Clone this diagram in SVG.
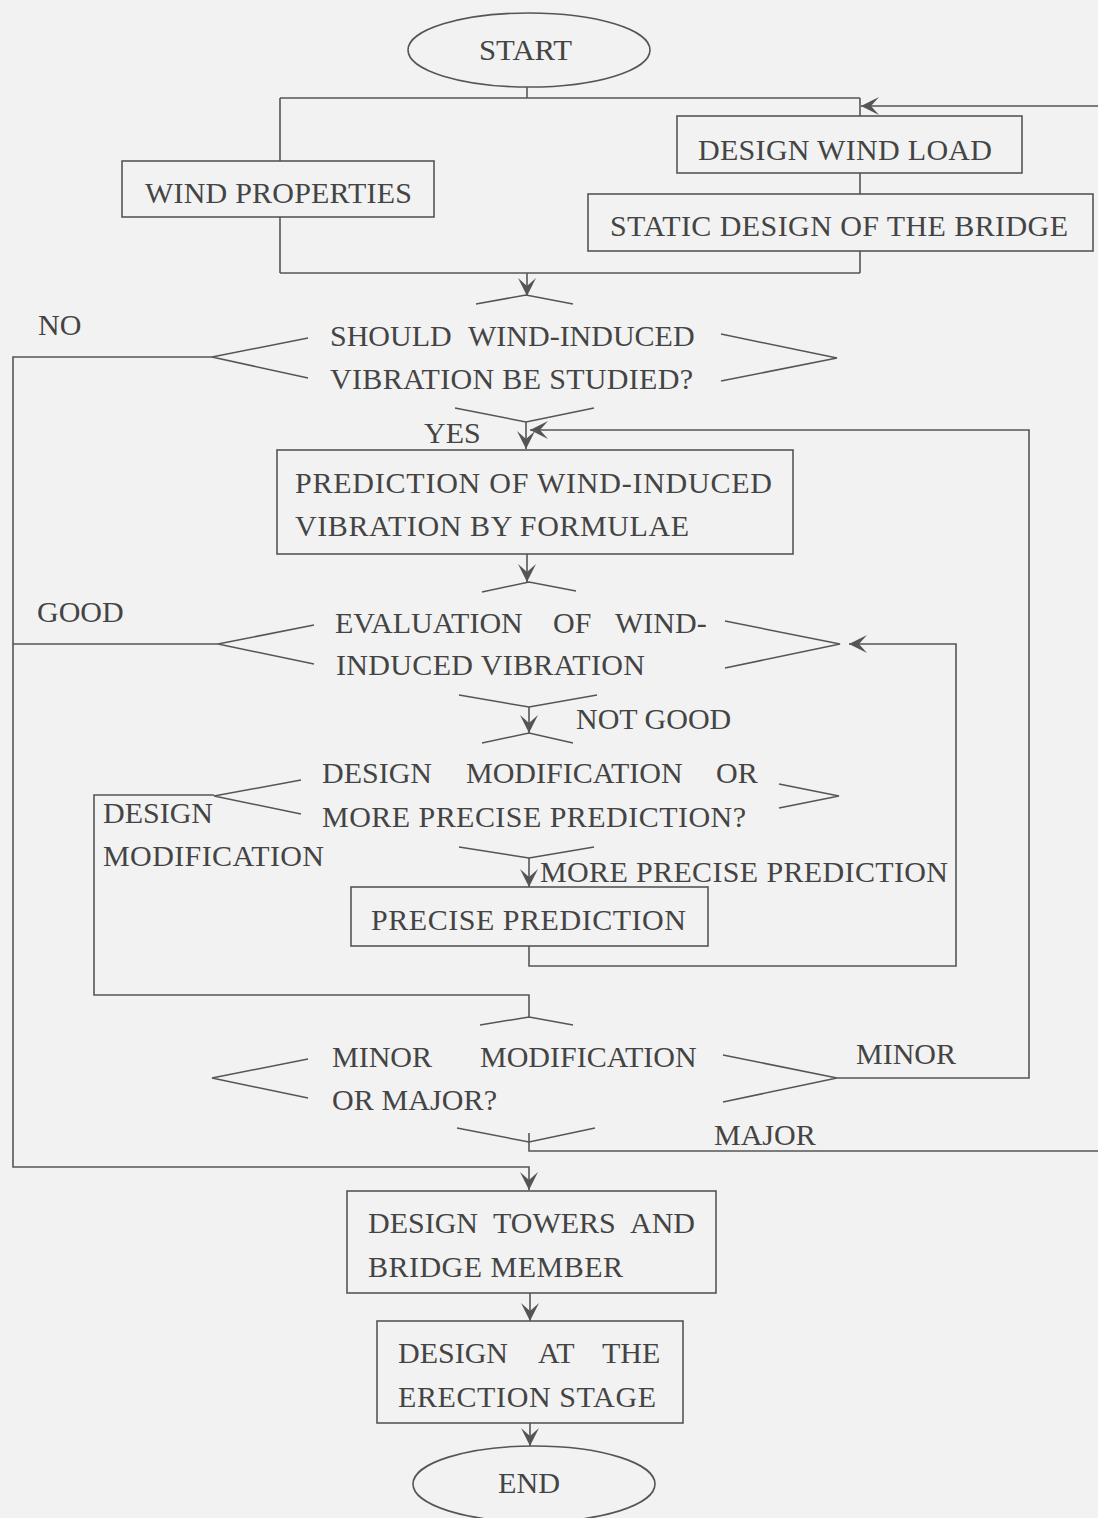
<svg xmlns="http://www.w3.org/2000/svg" width="1098" height="1518" viewBox="0 0 1098 1518">
  <style>
    .bg { fill: #f2f2f2; }
    .box { fill: none; stroke: #555; stroke-width: 1.6; }
    .dia { fill: none; stroke: #555; stroke-width: 1.5; stroke-linejoin: miter; }
    .wire { fill: none; stroke: #555; stroke-width: 1.6; }
    text { font-family: "Liberation Serif", "Times New Roman", serif; font-size: 30px; fill: #444; }
  </style>
  <defs>
    <marker id="arrow" viewBox="0 0 18 18" refX="18" refY="9" markerWidth="18" markerHeight="18" markerUnits="userSpaceOnUse" orient="auto">
      <path d="M18,9 L0,0 L8,9 L0,18 Z" fill="#555"/>
    </marker>
  </defs>

  <rect class="bg" x="0" y="0" width="1098" height="1518"/>

  <!-- connectors -->
  <g id="connectors">
    <path class="wire" d="M527,87 V98"/>
    <path class="wire" d="M280,98 H860"/>
    <path class="wire" d="M280,98 V161 M280,217 V273"/>
    <path class="wire" d="M860,98 V116 M860,173 V194 M860,251 V273"/>
    <path class="wire" d="M280,273 H860"/>
    <path class="wire" d="M527,273 V296" marker-end="url(#arrow)"/>
    <!-- NO branch to the tower design -->
    <path class="wire" d="M212,357 H13 V1167 H529 V1190" marker-end="url(#arrow)"/>
    <!-- YES branch -->
    <path class="wire" d="M526,422 V449" marker-end="url(#arrow)"/>
    <!-- MINOR loop back to the formula prediction -->
    <path class="wire" d="M837,1078 H1029 V430 H530" marker-end="url(#arrow)"/>
    <path class="wire" d="M527,554 V582" marker-end="url(#arrow)"/>
    <!-- GOOD branch -->
    <path class="wire" d="M218,644 H13"/>
    <!-- NOT GOOD -->
    <path class="wire" d="M529,707 V733" marker-end="url(#arrow)"/>
    <!-- DESIGN MODIFICATION -->
    <path class="wire" d="M214,795 H94 V995 H529 V1017"/>
    <!-- MORE PRECISE PREDICTION -->
    <path class="wire" d="M529,858 V887" marker-end="url(#arrow)"/>
    <!-- precise prediction back to evaluation -->
    <path class="wire" d="M529,946 V966 H956 V644 H849" marker-end="url(#arrow)"/>
    <!-- MAJOR loop back to the design wind load -->
    <path class="wire" d="M529,1133 V1151 H1101 V106 H861" marker-end="url(#arrow)"/>
    <path class="wire" d="M530,1293 V1321" marker-end="url(#arrow)"/>
    <path class="wire" d="M530,1423 V1446" marker-end="url(#arrow)"/>
  </g>

  <g id="start">
    <ellipse class="box" cx="529" cy="50" rx="121" ry="37"/>
    <text x="479" y="60" textLength="93" lengthAdjust="spacingAndGlyphs">START</text>
  </g>

  <g id="wind-properties">
    <rect class="box" x="122" y="161" width="312" height="56"/>
    <text x="145" y="203" textLength="267" lengthAdjust="spacing">WIND PROPERTIES</text>
  </g>

  <g id="design-wind-load">
    <rect class="box" x="677" y="116" width="345" height="57"/>
    <text x="698" y="160" textLength="294" lengthAdjust="spacing">DESIGN WIND LOAD</text>
  </g>

  <g id="static-design">
    <rect class="box" x="588" y="194" width="505" height="57"/>
    <text x="610" y="236" textLength="458" lengthAdjust="spacing">STATIC DESIGN OF THE BRIDGE</text>
  </g>

  <g id="decision-study">
    <polyline class="dia" points="476,304 526,295 573,304"/>
    <polyline class="dia" points="308,338 212,357 308,378"/>
    <polyline class="dia" points="721,334 837,358 721,381"/>
    <polyline class="dia" points="455,408 526,422 594,408"/>
    <text y="346"><tspan x="330">SHOULD</tspan><tspan x="468">WIND-INDUCED</tspan></text>
    <text x="330" y="389" textLength="363" lengthAdjust="spacing">VIBRATION BE STUDIED?</text>
  </g>

  <g id="formula-prediction">
    <rect class="box" x="277" y="450" width="516" height="104"/>
    <text x="295" y="493" textLength="477" lengthAdjust="spacing">PREDICTION OF WIND-INDUCED</text>
    <text x="295" y="536" textLength="394" lengthAdjust="spacing">VIBRATION BY FORMULAE</text>
  </g>

  <g id="decision-evaluation">
    <polyline class="dia" points="482,592 529,582 576,591"/>
    <polyline class="dia" points="314,625 218,644 314,664"/>
    <polyline class="dia" points="725,621 840,644 725,668"/>
    <polyline class="dia" points="459,695 529,707 597,695"/>
    <text y="633"><tspan x="335">EVALUATION</tspan><tspan x="553">OF</tspan><tspan x="615">WIND-</tspan></text>
    <text x="336" y="675" textLength="309" lengthAdjust="spacing">INDUCED VIBRATION</text>
  </g>

  <g id="decision-modify">
    <polyline class="dia" points="482,743 529,733 573,743"/>
    <polyline class="dia" points="301,780 214,796 301,814"/>
    <polyline class="dia" points="779,784 839,796 779,808"/>
    <polyline class="dia" points="459,847 529,858 594,847"/>
    <text y="783"><tspan x="322">DESIGN</tspan><tspan x="466">MODIFICATION</tspan><tspan x="716">OR</tspan></text>
    <text x="322" y="827" textLength="424" lengthAdjust="spacing">MORE PRECISE PREDICTION?</text>
  </g>

  <g id="precise-prediction">
    <rect class="box" x="351" y="887" width="357" height="59"/>
    <text x="371" y="930" textLength="315" lengthAdjust="spacing">PRECISE PREDICTION</text>
  </g>

  <g id="decision-minor-major">
    <polyline class="dia" points="480,1025 529,1017 573,1025"/>
    <polyline class="dia" points="308,1059 212,1078 308,1098"/>
    <polyline class="dia" points="723,1055 837,1078 723,1102"/>
    <polyline class="dia" points="457,1128 529,1142 595,1128"/>
    <text y="1067"><tspan x="332">MINOR</tspan><tspan x="480">MODIFICATION</tspan></text>
    <text x="332" y="1110" textLength="165" lengthAdjust="spacing">OR MAJOR?</text>
  </g>

  <g id="design-towers">
    <rect class="box" x="347" y="1191" width="369" height="102"/>
    <text y="1233"><tspan x="368">DESIGN</tspan><tspan x="493">TOWERS</tspan><tspan x="630">AND</tspan></text>
    <text x="368" y="1277" textLength="255" lengthAdjust="spacing">BRIDGE MEMBER</text>
  </g>

  <g id="erection-stage">
    <rect class="box" x="377" y="1321" width="306" height="102"/>
    <text y="1363"><tspan x="398">DESIGN</tspan><tspan x="538">AT</tspan><tspan x="602">THE</tspan></text>
    <text x="398" y="1407" textLength="258" lengthAdjust="spacing">ERECTION STAGE</text>
  </g>

  <g id="end">
    <ellipse class="box" cx="534" cy="1484" rx="121" ry="38"/>
    <text x="498" y="1493" textLength="62" lengthAdjust="spacingAndGlyphs">END</text>
  </g>

  <g id="labels">
    <text x="38" y="335">NO</text>
    <text x="424" y="443">YES</text>
    <text x="37" y="622">GOOD</text>
    <text x="576" y="729">NOT GOOD</text>
    <text x="103" y="823">DESIGN</text>
    <text x="103" y="866" textLength="221" lengthAdjust="spacing">MODIFICATION</text>
    <text x="540" y="882" textLength="408" lengthAdjust="spacing">MORE PRECISE PREDICTION</text>
    <text x="856" y="1064">MINOR</text>
    <text x="714" y="1145">MAJOR</text>
  </g>
</svg>
